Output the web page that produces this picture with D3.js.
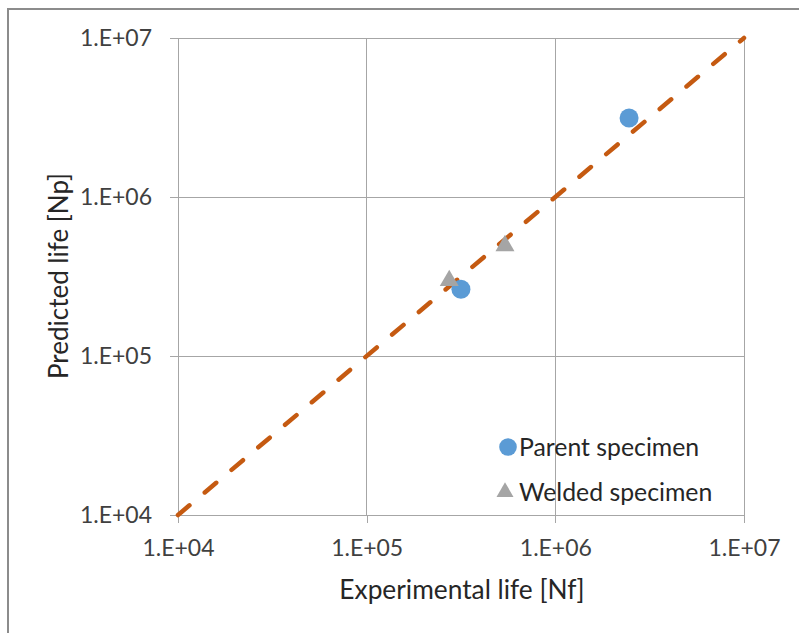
<!DOCTYPE html>
<html><head><meta charset="utf-8">
<script src="https://cdn.jsdelivr.net/npm/d3@7"></script>
<style>body{margin:0;background:#fff}svg{display:block}</style>
</head><body>
<svg id="c" width="799" height="633"></svg>
<script>
const tickValues = [1e4, 1e5, 1e6, 1e7];
const tickLabels = ["1.E+04", "1.E+05", "1.E+06", "1.E+07"];
const parentExp = [3.16e5, 2.46e6];
const parentPred = [2.63e5, 3.14e6];
const weldedExp = [2.74e5, 5.41e5];
const weldedPred = [2.98e5, 4.94e5];
const lineExp = [1e4, 1e7];
const linePred = [1e4, 1e7];
const legendLabels = ["Parent specimen", "Welded specimen"];

const svg = d3.select("#c");
const L = 178, R = 744, T = 38, B = 515;
const x = d3.scaleLog().domain([1e4, 1e7]).range([L, R]);
const y = d3.scaleLog().domain([1e4, 1e7]).range([B, T]);
const font = "Lato, 'Open Sans', sans-serif";

// outer frame
svg.append("path").attr("d", "M8,633 V9 H799").attr("fill", "none")
  .attr("stroke", "#8c8c8c").attr("stroke-width", 2);

// gridlines
svg.append("g").selectAll("line.gx").data(tickValues).join("line")
  .attr("x1", d => x(d)).attr("x2", d => x(d)).attr("y1", T).attr("y2", B)
  .attr("stroke", "#a6a6a6").attr("stroke-width", 1).attr("shape-rendering", "crispEdges");
svg.append("g").selectAll("line.gy").data(tickValues).join("line")
  .attr("y1", d => y(d)).attr("y2", d => y(d)).attr("x1", L).attr("x2", R)
  .attr("stroke", "#a6a6a6").attr("stroke-width", 1).attr("shape-rendering", "crispEdges");

// axes
const xAxis = d3.axisBottom(x).tickValues(tickValues).tickFormat((d, i) => tickLabels[i]).tickSize(8).tickPadding(17);
const yAxis = d3.axisLeft(y).tickValues(tickValues).tickFormat((d, i) => tickLabels[i]).tickSize(8).tickPadding(18);
const gx = svg.append("g").attr("transform", `translate(0,${B})`).call(xAxis);
const gy = svg.append("g").attr("transform", `translate(${L},0)`).call(yAxis);
[gx, gy].forEach(g => {
  g.select(".domain").attr("stroke", "#a6a6a6").attr("shape-rendering", "crispEdges");
  g.selectAll(".tick line").attr("stroke", "#a6a6a6").attr("shape-rendering", "crispEdges");
  g.selectAll(".tick text").attr("fill", "#404040").attr("font-size", 23).attr("font-family", font);
});
gy.select(".domain").attr("d", `M0,${B}V${T}`);
gx.select(".domain").attr("d", `M${L},0H${R}`);

// 1:1 dashed line
const line = d3.line().x(d => x(d[0])).y(d => y(d[1]));
svg.append("path").datum(lineExp.map((v, i) => [v, linePred[i]]))
  .attr("d", line).attr("fill", "none").attr("stroke", "#C55A11")
  .attr("stroke-width", 4.5).attr("stroke-linecap", "round")
  .attr("stroke-dasharray", "15,20");

// points
svg.append("g").selectAll("circle").data(parentExp).join("circle")
  .attr("cx", d => x(d)).attr("cy", (d, i) => y(parentPred[i])).attr("r", 9.5)
  .attr("fill", "#5B9BD5");
const tri = d3.symbol().type(d3.symbolTriangle).size(156);
svg.append("g").selectAll("path").data(weldedExp).join("path")
  .attr("d", tri).attr("transform", (d, i) => `translate(${x(d)},${y(weldedPred[i])})`)
  .attr("fill", "#A5A5A5");

// legend
const lg = svg.append("g");
lg.append("circle").attr("cx", 508).attr("cy", 447).attr("r", 8.8).attr("fill", "#5B9BD5");
lg.append("path").attr("d", d3.symbol().type(d3.symbolTriangle).size(125))
  .attr("transform", "translate(505,492)").attr("fill", "#A5A5A5");
lg.selectAll("text").data(legendLabels).join("text")
  .attr("x", 519).attr("y", (d, i) => 447 + i * 45).attr("dy", "0.35em")
  .attr("font-size", 24.8).attr("font-family", font).attr("fill", "#262626").text(d => d);

// axis titles
svg.append("text").attr("x", 462).attr("y", 599).attr("text-anchor", "middle")
  .attr("font-size", 26.3).attr("font-family", font).attr("fill", "#262626").text("Experimental life [Nf]");
svg.append("text").attr("transform", "translate(68,276) rotate(-90)").attr("text-anchor", "middle")
  .attr("font-size", 26).attr("font-family", font).attr("fill", "#262626").text("Predicted life [Np]");
</script>
</body></html>
